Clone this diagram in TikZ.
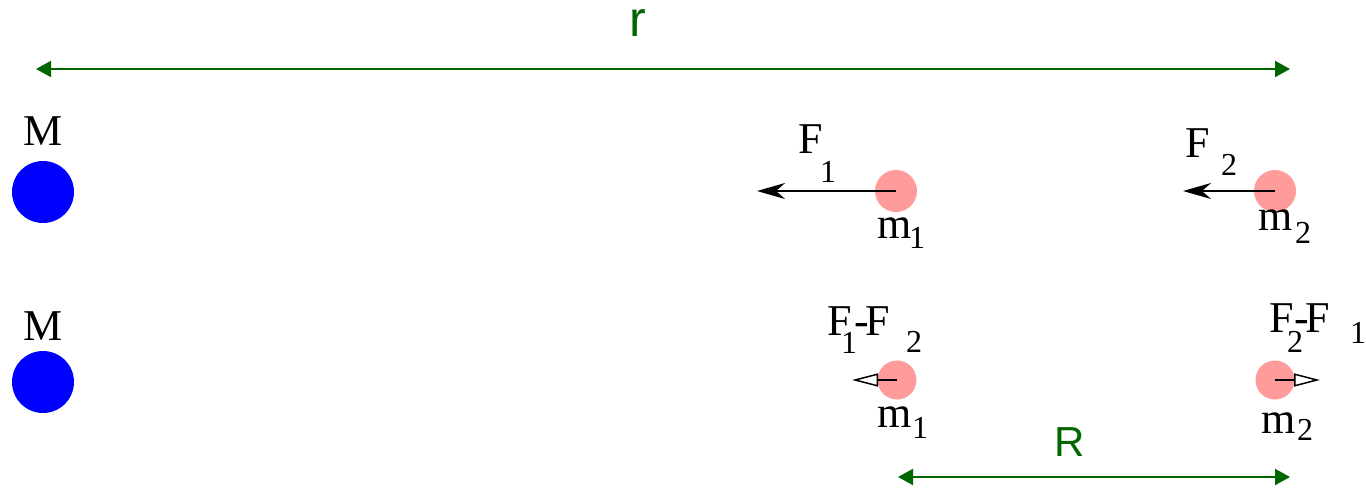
\documentclass[tikz,border=0pt]{standalone}
\usepackage{fontspec}
\setmainfont{Liberation Serif}
\newfontfamily\labsans{Liberation Sans}
\usetikzlibrary{arrows.meta}
\definecolor{dgreen}{RGB}{0,102,0}
\definecolor{pinkm}{RGB}{255,155,155}
\definecolor{blueM}{RGB}{0,0,255}
\begin{document}
\begin{tikzpicture}[x=1pt,y=-1pt,
  big/.style={inner sep=0pt,anchor=base,font=\fontsize{44}{44}\selectfont},
  sub/.style={inner sep=0pt,anchor=base,font=\fontsize{32}{32}\selectfont},
  heavy/.style={circle,fill=blueM,minimum size=62pt,inner sep=0pt},
  light/.style={circle,fill=pinkm,minimum size=42pt,inner sep=0pt},
  force/.style={draw=black,line width=2pt,-{Stealth[length=28pt,width=16pt,inset=9pt]}},
  diff/.style={draw=black,line width=1.5pt,-{Triangle[open,length=26pt,width=13pt]}},
  dim/.style={draw=dgreen,line width=2pt,{Triangle[length=15pt,width=16pt]}-{Triangle[length=15pt,width=16pt]}},
  dimlab/.style={text=dgreen,inner sep=0pt}]
\useasboundingbox (0,0) rectangle (1366,490);
% dimension r
\coordinate (rl) at (36,69);
\coordinate (rr) at (1290,69);
\draw[dim] (rl) -- (rr);
\node[dimlab,font=\labsans\fontsize{50}{50}\selectfont,anchor=base] (rlab) at (638,36) {r};
% heavy masses
\node[heavy] (M1) at (43,192) {};
\node[heavy] (M2) at (43,382) {};
\node[big] (M1l) at (43,145) {M};
\node[big] (M2l) at (43,340) {M};
% top row
\node[light] (m1t) at (896,191) {};
\node[light] (m2t) at (1275,191) {};
\coordinate (f1t) at (757,191);
\coordinate (f2t) at (1183,191);
\draw[force] (m1t.center) -- (f1t);
\draw[force] (m2t.center) -- (f2t);
\node[big] (F1a) at (811,153) {F};
\node[sub] (F1b) at (828,182) {1};
\node[big] (F2a) at (1198,157) {F};
\node[sub] (F2b) at (1229,175) {2};
\node[big] (m1ta) at (895,238) {m};
\node[sub] (m1tb) at (917,248) {1};
\node[big] (m2ta) at (1276,230) {m};
\node[sub] (m2tb) at (1303,243) {2};
% bottom row
\node[light,minimum size=39pt] (m1b) at (897,380) {};
\node[light,minimum size=39pt] (m2b) at (1275,380) {};
\coordinate (d1t) at (852,380);
\coordinate (d2t) at (1320,380);
\draw[diff] (m1b.center) -- (d1t);
\draw[diff] (m2b.center) -- (d2t);
\node[big] (D1a) at (840,335) {F};
\node[sub] (D1b) at (849,353) {1};
\node[big] (D1c) at (862,335) {-};
\node[big] (D1d) at (878,335) {F};
\node[sub] (D1e) at (914,352) {2};
\node[big] (D2a) at (1282,332) {F};
\node[sub] (D2b) at (1295,352) {2};
\node[big] (D2c) at (1302,332) {-};
\node[big] (D2d) at (1318,332) {F};
\node[sub] (D2e) at (1358,343) {1};
\node[big] (m1ba) at (895,427) {m};
\node[sub] (m1bb) at (920,438) {1};
\node[big] (m2ba) at (1279,433) {m};
\node[sub] (m2bb) at (1305,440) {2};
% dimension R
\coordinate (Rl) at (898,477);
\coordinate (Rr) at (1290,477);
\draw[dim] (Rl) -- (Rr);
\node[dimlab,font=\labsans\fontsize{42}{42}\selectfont] (Rlab) at (1070,442) {R};
\end{tikzpicture}
\end{document}
